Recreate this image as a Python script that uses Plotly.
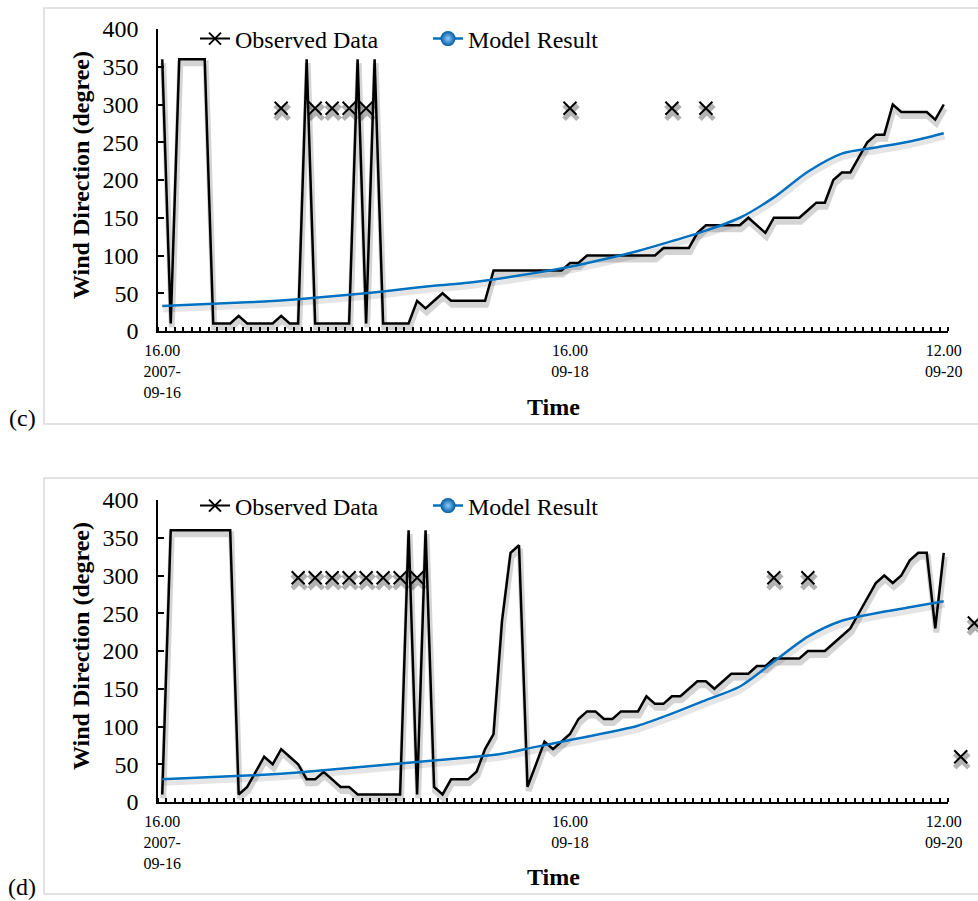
import plotly.graph_objects as go

W, H = 978, 901

# ---------------- data ----------------
hours = list(range(93))  # hourly from 16:00 2007-09-16 to 12:00 2007-09-20
tick_idx = [0, 48, 92]
tick_text = ["16.00<br>2007-<br>09-16", "16.00<br>09-18", "12.00<br>09-20"]

obs_c = [360, 10, 360, 360, 360, 360, 10, 10, 10, 20,
         10, 10, 10, 10, 20, 10, 10, 360, 10, 10,
         10, 10, 10, 360, 10, 360, 10, 10, 10, 10,
         40, 30, 40, 50, 40, 40, 40, 40, 40, 80,
         80, 80, 80, 80, 80, 80, 80, 80, 90, 90,
         100, 100, 100, 100, 100, 100, 100, 100, 100, 110,
         110, 110, 110, 130, 140, 140, 140, 140, 140, 150,
         140, 130, 150, 150, 150, 150, 160, 170, 170, 200,
         210, 210, 230, 250, 260, 260, 300, 290, 290, 290,
         290, 280, 300]

obs_d = [10, 360, 360, 360, 360, 360, 360, 360, 360, 10,
         20, 40, 60, 50, 70, 60, 50, 30, 30, 40,
         30, 20, 20, 10, 10, 10, 10, 10, 10, 360,
         10, 360, 20, 10, 30, 30, 30, 40, 70, 90,
         240, 330, 340, 20, 50, 80, 70, 80, 90, 110,
         120, 120, 110, 110, 120, 120, 120, 140, 130, 130,
         140, 140, 150, 160, 160, 150, 160, 170, 170, 170,
         180, 180, 190, 190, 190, 190, 200, 200, 200, 210,
         220, 230, 250, 270, 290, 300, 290, 300, 320, 330,
         330, 230, 330]

model_x = list(range(0, 93, 4))
model_c = [33, 35, 37, 39, 42, 46, 50, 55, 60, 64, 70, 77, 85, 95, 106, 119,
           133, 150, 177, 211, 235, 243, 251, 262]
model_d = [30, 32, 34, 36, 39, 43, 47, 51, 55, 59, 64, 73, 82, 91, 101, 117,
           135, 153, 186, 219, 240, 250, 258, 266]

# isolated observed points (drawn as markers only)
iso_c_x = [14, 18, 20, 22, 24, 48, 60, 64]
iso_c_y = [295, 295, 295, 295, 295, 295, 295, 295]
iso_d_x = [16, 18, 20, 22, 24, 26, 28, 30, 72, 76]
iso_d_y = [297, 297, 297, 297, 297, 297, 297, 297, 297, 297]
# isolated points beyond the last axis category (panel d)
extra_d_x = [94, 95.6]
extra_d_y = [60, 237]

# ---------------- style ----------------
FONT = "Liberation Serif"
BLUE = "#0070C0"
SHADOW = "rgba(0,0,0,0.17)"
SHADOW_M = "rgba(0,0,0,0.30)"


def px(x):
    return x / W


def py(y):
    return 1 - y / H


fig = go.Figure()

panels = [
    (obs_c, model_c, iso_c_x, iso_c_y, ("x", "y"), ("x3", "y3"), ("legend", "legend2")),
    (obs_d, model_d, iso_d_x, iso_d_y, ("x2", "y2"), ("x4", "y4"), ("legend3", "legend4")),
]


def add_markers(xs, ys, sx, sy, mx, my):
    fig.add_trace(go.Scatter(x=xs, y=ys, mode="markers", xaxis=sx, yaxis=sy, cliponaxis=False,
                             marker=dict(symbol="x-thin-open", size=14, color=SHADOW_M,
                                         line=dict(color=SHADOW_M, width=5)),
                             showlegend=False, hoverinfo="skip"))
    fig.add_trace(go.Scatter(x=xs, y=ys, mode="markers", xaxis=mx, yaxis=my, cliponaxis=False,
                             marker=dict(symbol="x-thin-open", size=13, color="black",
                                         line=dict(color="black", width=2)),
                             showlegend=False))


for obs, model, ix, iy, (sx, sy), (mx, my), (lg1, lg2) in panels:
    # shadows (on shifted hidden axes, drawn underneath)
    fig.add_trace(go.Scatter(x=model_x, y=model, mode="lines", xaxis=sx, yaxis=sy,
                             line=dict(color="rgba(0,0,0,0.10)", width=5, shape="spline", smoothing=0.8),
                             showlegend=False, hoverinfo="skip"))
    fig.add_trace(go.Scatter(x=hours, y=obs, mode="lines", xaxis=sx, yaxis=sy,
                             line=dict(color=SHADOW, width=6),
                             showlegend=False, hoverinfo="skip"))
    # main series
    fig.add_trace(go.Scatter(x=hours, y=obs, mode="lines", xaxis=mx, yaxis=my,
                             line=dict(color="black", width=2.5),
                             showlegend=False))
    add_markers(ix, iy, sx, sy, mx, my)
    fig.add_trace(go.Scatter(x=model_x, y=model, mode="lines", xaxis=mx, yaxis=my,
                             line=dict(color=BLUE, width=2.5, shape="spline", smoothing=0.8),
                             showlegend=False))
    # legend entries
    fig.add_trace(go.Scatter(x=[None], y=[None], mode="lines+markers", name="Observed Data",
                             xaxis=mx, yaxis=my, legend=lg1,
                             line=dict(color="black", width=2),
                             marker=dict(symbol="x-thin-open", size=12, color="black",
                                         line=dict(color="black", width=2))))
    fig.add_trace(go.Scatter(x=[None], y=[None], mode="lines+markers", name="Model Result",
                             xaxis=mx, yaxis=my, legend=lg2,
                             line=dict(color=BLUE, width=2.5),
                             marker=dict(symbol="circle", size=15, color="#005A9E",
                                         gradient=dict(type="radial", color="#8FCBFF"),
                                         line=dict(width=0))))

# markers lying right of the axis end (panel d) on an extended hidden axis pair
add_markers(extra_d_x, extra_d_y, "x5", "y5", "x6", "y6")

# axes
X0, X1 = 158, 948
NCAT = 93
xdom = [px(X0), px(X1)]
layout_axes = {}
for sxk, syk, mxk, myk, ytop, ybot in [
        ("xaxis", "yaxis", "xaxis3", "yaxis3", 29, 331),
        ("xaxis2", "yaxis2", "xaxis4", "yaxis4", 500, 802)]:
    sx_id = sxk.replace("axis", "")
    sy_id = syk.replace("axis", "")
    mx_id = mxk.replace("axis", "")
    my_id = myk.replace("axis", "")
    ydom = [py(ybot), py(ytop)]
    # hidden shadow axes, shifted by ~1px right and ~4px down
    layout_axes[sxk] = dict(domain=xdom, range=[-0.5 - 0.12, 92.5 - 0.12], visible=False,
                            anchor=sy_id, fixedrange=True, automargin=False)
    layout_axes[syk] = dict(domain=ydom, range=[5.3, 405.3], visible=False,
                            anchor=sx_id, fixedrange=True, automargin=False)
    layout_axes[mxk] = dict(overlaying=sx_id, anchor=my_id, range=[-0.5, 92.5],
                            tickmode="array", tickvals=tick_idx, ticktext=tick_text,
                            ticks="", showline=True, linecolor="black", linewidth=2,
                            showgrid=False, zeroline=False, automargin=False,
                            tickfont=dict(family=FONT, size=16, color="black"),
                            ticklabelstandoff=4,
                            minor=dict(ticks="inside", tickmode="linear", tick0=-0.5, dtick=1,
                                       ticklen=4, tickwidth=2, tickcolor="black", showgrid=False))
    layout_axes[myk] = dict(overlaying=sy_id, anchor=mx_id, range=[0, 400],
                            tickmode="linear", tick0=0, dtick=50,
                            ticks="inside", ticklen=6, tickwidth=1.5, tickcolor="black",
                            showline=True, linecolor="black", linewidth=1.5,
                            showgrid=False, zeroline=False, automargin=False,
                            tickfont=dict(family=FONT, size=24, color="black"),
                            ticklabelstandoff=13)

# extended hidden axes for panel d (same scale, domain reaching the right edge)
unit = (X1 - X0) / NCAT
ext_end = -0.5 + (W - X0) / unit
ydom_d = [py(802), py(500)]
layout_axes["xaxis5"] = dict(domain=[px(X0), 1.0], range=[-0.5 - 0.12, ext_end - 0.12],
                             visible=False, anchor="y5", fixedrange=True)
layout_axes["yaxis5"] = dict(domain=ydom_d, range=[5.3, 405.3], visible=False,
                             anchor="x5", fixedrange=True)
layout_axes["xaxis6"] = dict(domain=[px(X0), 1.0], range=[-0.5, ext_end],
                             visible=False, anchor="y6", fixedrange=True)
layout_axes["yaxis6"] = dict(domain=ydom_d, range=[0, 400], visible=False,
                             anchor="x6", fixedrange=True)

fig.update_layout(**layout_axes)

legend_common = dict(orientation="h", xanchor="left", yanchor="middle",
                     bgcolor="rgba(0,0,0,0)", borderwidth=0,
                     font=dict(family=FONT, size=24, color="black"))
fig.update_layout(
    legend=dict(x=px(195), y=py(39), **legend_common),
    legend2=dict(x=px(428), y=py(39), **legend_common),
    legend3=dict(x=px(195), y=py(506), **legend_common),
    legend4=dict(x=px(428), y=py(506), **legend_common),
)

# frames
shapes = []
for top, bot in [(8, 424), (478, 894)]:
    shapes.append(dict(type="rect", xref="paper", yref="paper",
                       x0=px(44), x1=1.05, y0=py(bot), y1=py(top),
                       line=dict(color="#D9D9D9", width=1.5), fillcolor="rgba(0,0,0,0)",
                       layer="below"))

annotations = []
for lab, ylab, ymid, ytime in [("(c)", 418, 175, 407), ("(d)", 887, 646, 877)]:
    annotations.append(dict(text=lab, x=px(22), y=py(ylab), xref="paper", yref="paper",
                            showarrow=False, xanchor="center", yanchor="middle",
                            font=dict(family=FONT, size=24, color="black")))
    annotations.append(dict(text="<b>Wind Direction (degree)</b>", x=px(81), y=py(ymid),
                            xref="paper", yref="paper", textangle=-90, showarrow=False,
                            xanchor="center", yanchor="middle",
                            font=dict(family=FONT, size=24, color="black")))
    annotations.append(dict(text="<b>Time</b>", x=px(553), y=py(ytime), xref="paper", yref="paper",
                            showarrow=False, xanchor="center", yanchor="middle",
                            font=dict(family=FONT, size=24, color="black")))

fig.update_layout(
    width=W, height=H,
    margin=dict(l=0, r=0, t=0, b=0, pad=0, autoexpand=False),
    paper_bgcolor="white", plot_bgcolor="rgba(0,0,0,0)",
    shapes=shapes, annotations=annotations,
    font=dict(family=FONT, color="black"),
)

fig.write_html("out.html")
